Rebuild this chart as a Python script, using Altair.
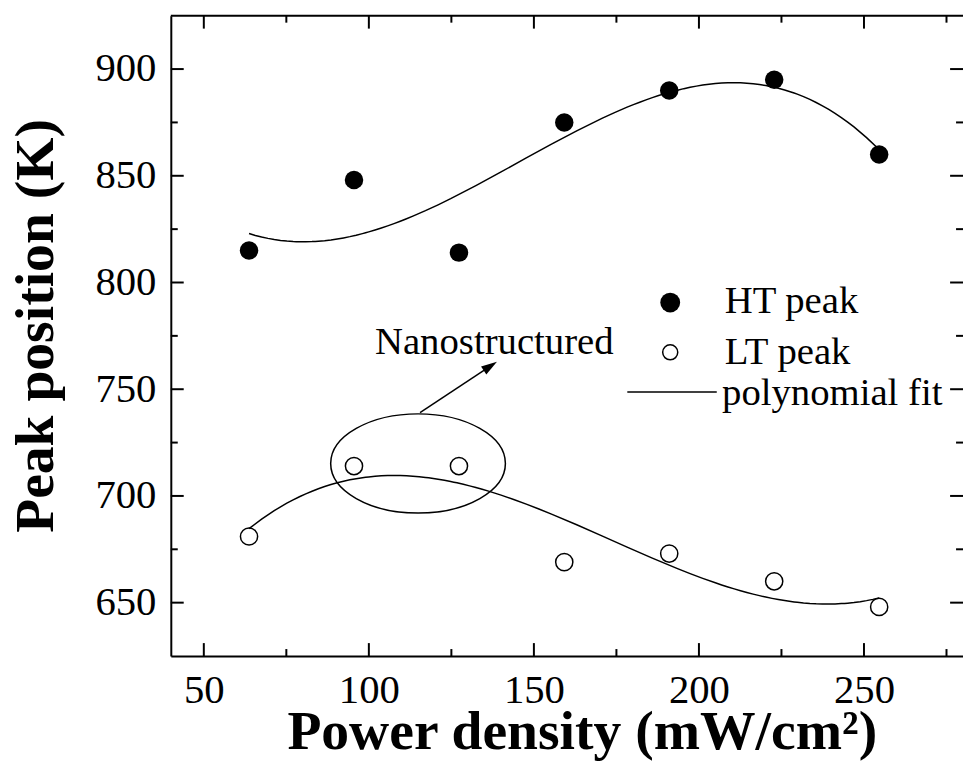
import altair as alt
import pandas as pd

# ---- data ----
power = [63.7, 95.5, 127.3, 159.2, 191.0, 222.8, 254.6]
ht_peak = [815, 848, 814, 875, 890, 895, 860]
lt_peak = [681, 714, 714, 669, 673, 660, 648]

x_major = [50, 100, 150, 200, 250]
x_minor = [75, 125, 175, 225, 275]
y_major = [650, 700, 750, 800, 850, 900]
y_minor = [675, 725, 775, 825, 875]

x_domain = [40, 280]
y_domain = [625, 925]

# annotation (data coordinates)
ellipse_xy = [114.9, 715.2]
arrow_from = [115.5, 739.0]
arrow_to = [136.8, 760.8]
label_text = ["Nanostructured"]
label_xy = [138.0, 772.0]

# manual legend (data coordinates)
legend_labels = ["HT peak", "LT peak", "polynomial fit"]
legend_text_x = [207.8, 207.8, 207.0]
legend_text_y = [791.5, 767.3, 748.3]
legend_sym_x = [191.3, 191.3]
legend_sym_y = [790.6, 767.3]
legend_line_x = [178.3, 205.4]
legend_line_y = [748.7, 748.7]

FONT = "Liberation Serif"
W, H = 798, 645
MAJ, MIN = 13, 7

pts = pd.DataFrame({
    "x": power * 2,
    "y": ht_peak + lt_peak,
    "series": ["HT"] * len(power) + ["LT"] * len(power),
})
ht_df = pts[pts.series == "HT"]
lt_df = pts[pts.series == "LT"]

xs = alt.Scale(domain=x_domain, nice=False, zero=False)
ys = alt.Scale(domain=y_domain, nice=False, zero=False)

x_axis = alt.Axis(
    orient="bottom", values=x_major, ticks=False, tickSize=0, domain=True,
    domainColor="black", domainWidth=2, grid=False,
    labelFont=FONT, labelFontSize=41, labelColor="black", labelPadding=15,
    labelFlush=False,
    title="Power density (mW/cm²)", titleFont=FONT, titleFontSize=56,
    titleFontWeight="bold", titleColor="black",
    titleX=414, titleY=93, titleBaseline="alphabetic", titleAlign="center")
y_axis = alt.Axis(
    orient="left", values=y_major, ticks=False, tickSize=0, domain=True,
    domainColor="black", domainWidth=2, grid=False,
    labelFont=FONT, labelFontSize=41, labelColor="black", labelPadding=15,
    labelFlush=False,
    title="Peak position (K)", titleFont=FONT, titleFontSize=56,
    titleFontWeight="bold", titleColor="black",
    titleX=-119, titleY=312, titleAngle=270, titleBaseline="alphabetic",
    titleAlign="center")

ht_layer = alt.Chart(ht_df).mark_point(
    shape="circle", filled=True, color="black", size=346, opacity=1
).encode(
    x=alt.X("x:Q", scale=xs, axis=x_axis),
    y=alt.Y("y:Q", scale=ys, axis=y_axis),
)

lt_layer = alt.Chart(lt_df).mark_point(
    shape="circle", filled=False, color="black", strokeWidth=1.5, size=300, opacity=1
).encode(
    x=alt.X("x:Q", scale=xs, axis=None),
    y=alt.Y("y:Q", scale=ys, axis=None),
)

fit_layer = alt.Chart(pts).transform_regression(
    "x", "y", method="poly", order=3, groupby=["series"]
).mark_line(color="black", strokeWidth=1.5).encode(
    x=alt.X("x:Q", scale=xs, axis=None),
    y=alt.Y("y:Q", scale=ys, axis=None),
    detail="series:N",
)

# ---- inward ticks and top frame line ----
def xticks(values, y0, y1):
    df = pd.DataFrame({"v": values})
    return alt.Chart(df).mark_rule(color="black", strokeWidth=2).encode(
        x=alt.X("v:Q", scale=xs, axis=None), y=alt.value(y0), y2=alt.value(y1))


def yticks(values, x0, x1):
    df = pd.DataFrame({"v": values})
    return alt.Chart(df).mark_rule(color="black", strokeWidth=2).encode(
        y=alt.Y("v:Q", scale=ys, axis=None), x=alt.value(x0), x2=alt.value(x1))


tick_layers = [
    xticks(x_major, H, H - MAJ), xticks(x_minor, H, H - MIN),
    xticks(x_major, 0, MAJ), xticks(x_minor, 0, MIN),
    yticks(y_major, 0, MAJ), yticks(y_minor, 0, MIN),
    yticks(y_major, W, W - MAJ), yticks(y_minor, W, W - MIN),
]
top_frame = alt.Chart(pd.DataFrame({"v": [0]})).mark_rule(
    color="black", strokeWidth=2).encode(
    x=alt.value(0), x2=alt.value(W), y=alt.value(0))

ellipse_path = ("M -1 0 C -1 -0.3137 -0.5523 -0.568 0 -0.568 "
                "C 0.5523 -0.568 1 -0.3137 1 0 "
                "C 1 0.3137 0.5523 0.568 0 0.568 "
                "C -0.5523 0.568 -1 0.3137 -1 0 Z")
ell_df = pd.DataFrame({"x": [ellipse_xy[0]], "y": [ellipse_xy[1]]})
ellipse_layer = alt.Chart(ell_df).mark_point(
    shape=ellipse_path, filled=False, color="black", strokeWidth=1.5,
    size=176 * 176, opacity=1
).encode(x=alt.X("x:Q", scale=xs, axis=None), y=alt.Y("y:Q", scale=ys, axis=None))

arr_df = pd.DataFrame({"x": [arrow_from[0]], "y": [arrow_from[1]],
                       "x2": [arrow_to[0]], "y2": [arrow_to[1]]})
arrow_layer = alt.Chart(arr_df).mark_rule(color="black", strokeWidth=1.5).encode(
    x=alt.X("x:Q", scale=xs, axis=None),
    y=alt.Y("y:Q", scale=ys, axis=None),
    x2="x2:Q", y2="y2:Q",
)

head_df = pd.DataFrame({"x": [arrow_to[0]], "y": [arrow_to[1]]})
head_layer = alt.Chart(head_df).mark_point(
    shape="M 0 -1 L 0.6 1 L -0.6 1 Z", filled=True, color="black",
    size=256, angle=56.5, opacity=1
).encode(x=alt.X("x:Q", scale=xs, axis=None), y=alt.Y("y:Q", scale=ys, axis=None))

lab_df = pd.DataFrame({"x": [label_xy[0]], "y": [label_xy[1]], "t": label_text})
label_layer = alt.Chart(lab_df).mark_text(
    font=FONT, fontSize=39, color="black", align="center", baseline="middle"
).encode(
    x=alt.X("x:Q", scale=xs, axis=None),
    y=alt.Y("y:Q", scale=ys, axis=None),
    text="t:N",
)

leg_ht = pd.DataFrame({"x": [legend_sym_x[0]], "y": [legend_sym_y[0]]})
leg_lt = pd.DataFrame({"x": [legend_sym_x[1]], "y": [legend_sym_y[1]]})
leg_ht_layer = alt.Chart(leg_ht).mark_point(
    shape="circle", filled=True, color="black", size=400, opacity=1
).encode(x=alt.X("x:Q", scale=xs, axis=None), y=alt.Y("y:Q", scale=ys, axis=None))
leg_lt_layer = alt.Chart(leg_lt).mark_point(
    shape="circle", filled=False, color="black", strokeWidth=1.5, size=230, opacity=1
).encode(x=alt.X("x:Q", scale=xs, axis=None), y=alt.Y("y:Q", scale=ys, axis=None))

leg_line_df = pd.DataFrame({"x": legend_line_x, "y": legend_line_y})
leg_line_layer = alt.Chart(leg_line_df).mark_line(color="black", strokeWidth=1.5).encode(
    x=alt.X("x:Q", scale=xs, axis=None), y=alt.Y("y:Q", scale=ys, axis=None))

leg_txt_df = pd.DataFrame({"x": legend_text_x, "y": legend_text_y, "t": legend_labels})
leg_txt_layer = alt.Chart(leg_txt_df).mark_text(
    font=FONT, fontSize=39, color="black", align="left", baseline="middle"
).encode(
    x=alt.X("x:Q", scale=xs, axis=None),
    y=alt.Y("y:Q", scale=ys, axis=None),
    text="t:N",
)

chart = alt.layer(
    ht_layer, lt_layer, fit_layer, *tick_layers, top_frame,
    ellipse_layer, arrow_layer, head_layer,
    label_layer, leg_ht_layer, leg_lt_layer, leg_line_layer, leg_txt_layer
).resolve_axis(x="independent", y="independent").properties(
    width=W, height=H,
    autosize=alt.AutoSizeParams(type="none"),
    padding={"left": 164, "top": 5, "right": 0, "bottom": 104},
    background="white",
).configure_view(stroke=None).configure_axis(grid=False)

chart.save("out.html", embed_options={"renderer": "svg", "actions": False})
